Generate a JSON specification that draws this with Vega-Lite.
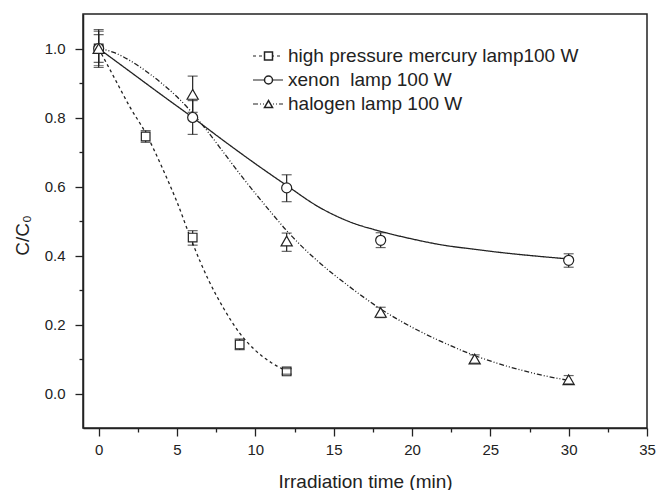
{
  "$schema": "https://vega.github.io/schema/vega-lite/v6.json",
  "width": 564,
  "height": 414,
  "autosize": {"type": "none"},
  "padding": {"left": 83, "top": 14, "right": 12, "bottom": 62},
  "background": "white",
  "config": {
    "font": "Liberation Sans",
    "view": {"stroke": "#222", "strokeWidth": 1.5},
    "axis": {
      "domainColor": "#222", "tickColor": "#222", "labelColor": "#222", "titleColor": "#222",
      "grid": false, "labelFont": "Liberation Sans", "titleFont": "Liberation Sans",
      "labelFontSize": 15, "titleFontSize": 19, "titleFontWeight": "normal",
      "domainWidth": 1.5, "tickWidth": 1.3, "labelOverlap": false, "labelFlush": false
    }
  },
  "datasets": {
    "pts": [
      {"series": "high pressure mercury lamp100 W", "t": 0, "v": 1.0, "lo": 0.945, "hi": 1.055},
      {"series": "high pressure mercury lamp100 W", "t": 3, "v": 0.745, "lo": 0.728, "hi": 0.762},
      {"series": "high pressure mercury lamp100 W", "t": 6, "v": 0.452, "lo": 0.43, "hi": 0.472},
      {"series": "high pressure mercury lamp100 W", "t": 9, "v": 0.142, "lo": 0.127, "hi": 0.158},
      {"series": "high pressure mercury lamp100 W", "t": 12, "v": 0.064, "lo": 0.056, "hi": 0.072},
      {"series": "xenon  lamp 100 W", "t": 0, "v": 1.0, "lo": 0.95, "hi": 1.05},
      {"series": "xenon  lamp 100 W", "t": 6, "v": 0.80, "lo": 0.751, "hi": 0.849},
      {"series": "xenon  lamp 100 W", "t": 12, "v": 0.596, "lo": 0.556, "hi": 0.634},
      {"series": "xenon  lamp 100 W", "t": 18, "v": 0.444, "lo": 0.423, "hi": 0.466},
      {"series": "xenon  lamp 100 W", "t": 30, "v": 0.386, "lo": 0.366, "hi": 0.405},
      {"series": "halogen lamp 100 W", "t": 0, "v": 1.0, "lo": 0.96, "hi": 1.04},
      {"series": "halogen lamp 100 W", "t": 6, "v": 0.867, "lo": 0.815, "hi": 0.92},
      {"series": "halogen lamp 100 W", "t": 12, "v": 0.442, "lo": 0.412, "hi": 0.465},
      {"series": "halogen lamp 100 W", "t": 18, "v": 0.235, "lo": 0.22, "hi": 0.25},
      {"series": "halogen lamp 100 W", "t": 24, "v": 0.10, "lo": 0.088, "hi": 0.112},
      {"series": "halogen lamp 100 W", "t": 30, "v": 0.04, "lo": 0.028, "hi": 0.052}
    ],
    "fit": [
      {"series": "high pressure mercury lamp100 W", "t": 0, "v": 1.0},
      {"series": "high pressure mercury lamp100 W", "t": 1, "v": 0.915},
      {"series": "high pressure mercury lamp100 W", "t": 2, "v": 0.83},
      {"series": "high pressure mercury lamp100 W", "t": 3, "v": 0.755},
      {"series": "high pressure mercury lamp100 W", "t": 4, "v": 0.66},
      {"series": "high pressure mercury lamp100 W", "t": 5, "v": 0.555},
      {"series": "high pressure mercury lamp100 W", "t": 6, "v": 0.435},
      {"series": "high pressure mercury lamp100 W", "t": 7, "v": 0.33},
      {"series": "high pressure mercury lamp100 W", "t": 8, "v": 0.245},
      {"series": "high pressure mercury lamp100 W", "t": 9, "v": 0.175},
      {"series": "high pressure mercury lamp100 W", "t": 10, "v": 0.125},
      {"series": "high pressure mercury lamp100 W", "t": 11, "v": 0.09},
      {"series": "high pressure mercury lamp100 W", "t": 12, "v": 0.065},
      {"series": "xenon  lamp 100 W", "t": 0, "v": 1.0},
      {"series": "xenon  lamp 100 W", "t": 2, "v": 0.933},
      {"series": "xenon  lamp 100 W", "t": 4, "v": 0.866},
      {"series": "xenon  lamp 100 W", "t": 6, "v": 0.80},
      {"series": "xenon  lamp 100 W", "t": 8, "v": 0.732},
      {"series": "xenon  lamp 100 W", "t": 10, "v": 0.666},
      {"series": "xenon  lamp 100 W", "t": 12, "v": 0.603},
      {"series": "xenon  lamp 100 W", "t": 14, "v": 0.542},
      {"series": "xenon  lamp 100 W", "t": 16, "v": 0.498},
      {"series": "xenon  lamp 100 W", "t": 18, "v": 0.47},
      {"series": "xenon  lamp 100 W", "t": 20, "v": 0.448},
      {"series": "xenon  lamp 100 W", "t": 22, "v": 0.43},
      {"series": "xenon  lamp 100 W", "t": 24, "v": 0.418},
      {"series": "xenon  lamp 100 W", "t": 26, "v": 0.407},
      {"series": "xenon  lamp 100 W", "t": 28, "v": 0.398},
      {"series": "xenon  lamp 100 W", "t": 30, "v": 0.39},
      {"series": "halogen lamp 100 W", "t": 0, "v": 1.0},
      {"series": "halogen lamp 100 W", "t": 1, "v": 0.988},
      {"series": "halogen lamp 100 W", "t": 2, "v": 0.965},
      {"series": "halogen lamp 100 W", "t": 3, "v": 0.935},
      {"series": "halogen lamp 100 W", "t": 4, "v": 0.9},
      {"series": "halogen lamp 100 W", "t": 5, "v": 0.86},
      {"series": "halogen lamp 100 W", "t": 6, "v": 0.812},
      {"series": "halogen lamp 100 W", "t": 7, "v": 0.757},
      {"series": "halogen lamp 100 W", "t": 8, "v": 0.697},
      {"series": "halogen lamp 100 W", "t": 9, "v": 0.637},
      {"series": "halogen lamp 100 W", "t": 10, "v": 0.58},
      {"series": "halogen lamp 100 W", "t": 11, "v": 0.525},
      {"series": "halogen lamp 100 W", "t": 12, "v": 0.472},
      {"series": "halogen lamp 100 W", "t": 13, "v": 0.425},
      {"series": "halogen lamp 100 W", "t": 14, "v": 0.383},
      {"series": "halogen lamp 100 W", "t": 16, "v": 0.31},
      {"series": "halogen lamp 100 W", "t": 18, "v": 0.245},
      {"series": "halogen lamp 100 W", "t": 20, "v": 0.192},
      {"series": "halogen lamp 100 W", "t": 22, "v": 0.148},
      {"series": "halogen lamp 100 W", "t": 24, "v": 0.11},
      {"series": "halogen lamp 100 W", "t": 26, "v": 0.08},
      {"series": "halogen lamp 100 W", "t": 28, "v": 0.056},
      {"series": "halogen lamp 100 W", "t": 30, "v": 0.038}
    ]
  },
  "layer": [
    {
      "data": {"name": "fit"},
      "mark": {"type": "line", "interpolate": "monotone", "color": "#222", "strokeWidth": 1.3},
      "encoding": {
        "x": {
          "field": "t", "type": "quantitative", "title": "Irradiation time (min)",
          "scale": {"domain": [-1, 35], "nice": false, "zero": false},
          "axis": {
            "values": [0, 2.5, 5, 7.5, 10, 12.5, 15, 17.5, 20, 22.5, 25, 27.5, 30, 32.5, 35],
            "labelExpr": "datum.value % 5 === 0 ? datum.label : ''",
            "tickSize": {"condition": {"test": "datum.value % 5 === 0", "value": 8}, "value": 4},
            "labelPadding": 6, "titlePadding": 15
          }
        },
        "y": {
          "field": "v", "type": "quantitative", "title": "C/C₀",
          "scale": {"domain": [-0.1, 1.1], "nice": false, "zero": false},
          "axis": {
            "values": [0, 0.1, 0.2, 0.3, 0.4, 0.5, 0.6, 0.7, 0.8, 0.9, 1.0],
            "format": ".1f",
            "labelExpr": "round(datum.value * 10) % 2 === 0 ? datum.label : ''",
            "tickSize": {"condition": {"test": "round(datum.value * 10) % 2 === 0", "value": 8}, "value": 4},
            "labelPadding": 10, "titlePadding": 12, "titleY": 221
          }
        },
        "strokeDash": {
          "field": "series", "type": "nominal",
          "sort": ["high pressure mercury lamp100 W", "xenon  lamp 100 W", "halogen lamp 100 W"],
          "scale": {"range": [[3, 3], [1, 0], [5, 2, 1, 2, 1, 2]]},
          "legend": {
            "orient": "none", "legendX": 169, "legendY": 30, "title": null,
            "symbolType": "stroke", "symbolSize": 900, "symbolStrokeWidth": 1.2,
            "symbolStrokeColor": "#222", "clipHeight": 24, "labelFontSize": 19,
            "labelFont": "Liberation Sans", "labelOffset": 4, "labelColor": "#222",
            "padding": 0, "labelLimit": 500, "rowPadding": 0,
            "labelExpr": "replace(datum.label, 'xenon  lamp', 'xenon\u00a0 lamp')"
          }
        }
      }
    },
    {
      "data": {"name": "pts"},
      "mark": {"type": "rule", "color": "#222", "strokeWidth": 1.2},
      "encoding": {
        "x": {"field": "t", "type": "quantitative", "title": "Irradiation time (min)"},
        "y": {"field": "lo", "type": "quantitative", "title": "C/C₀"},
        "y2": {"field": "hi"}
      }
    },
    {
      "data": {"name": "pts"},
      "mark": {"type": "point", "filled": true, "fill": "white", "stroke": "#222", "strokeWidth": 1.2, "opacity": 1},
      "encoding": {
        "x": {"field": "t", "type": "quantitative", "title": "Irradiation time (min)"},
        "y": {"field": "v", "type": "quantitative", "title": "C/C₀"},
        "size": {
          "field": "series", "type": "nominal",
          "sort": ["high pressure mercury lamp100 W", "xenon  lamp 100 W", "halogen lamp 100 W"],
          "scale": {"range": [75, 125, 135]},
          "legend": null
        },
        "shape": {
          "field": "series", "type": "nominal",
          "sort": ["high pressure mercury lamp100 W", "xenon  lamp 100 W", "halogen lamp 100 W"],
          "scale": {"range": ["square", "circle", "triangle-up"]},
          "legend": {
            "orient": "none", "legendX": 176, "legendY": 30, "title": null,
            "symbolSize": 64, "clipHeight": 24, "labelFontSize": 19,
            "labelFont": "Liberation Sans", "labelOffset": 0, "labelExpr": "''",
            "padding": 0, "labelLimit": 500, "rowPadding": 0,
            "encode": {
              "symbols": {
                "update": {
                  "fill": {"value": "white"},
                  "stroke": {"value": "#222"},
                  "strokeWidth": {"value": 1.1},
                  "opacity": {"value": 1}
                }
              }
            }
          }
        }
      }
    },
    {
      "data": {"name": "pts"},
      "mark": {"type": "tick", "orient": "horizontal", "size": 10, "thickness": 1.2, "color": "#222"},
      "encoding": {
        "x": {"field": "t", "type": "quantitative", "title": "Irradiation time (min)"},
        "y": {"field": "lo", "type": "quantitative", "title": "C/C₀"}
      }
    },
    {
      "data": {"name": "pts"},
      "mark": {"type": "tick", "orient": "horizontal", "size": 10, "thickness": 1.2, "color": "#222"},
      "encoding": {
        "x": {"field": "t", "type": "quantitative", "title": "Irradiation time (min)"},
        "y": {"field": "hi", "type": "quantitative", "title": "C/C₀"}
      }
    }
  ]
}
